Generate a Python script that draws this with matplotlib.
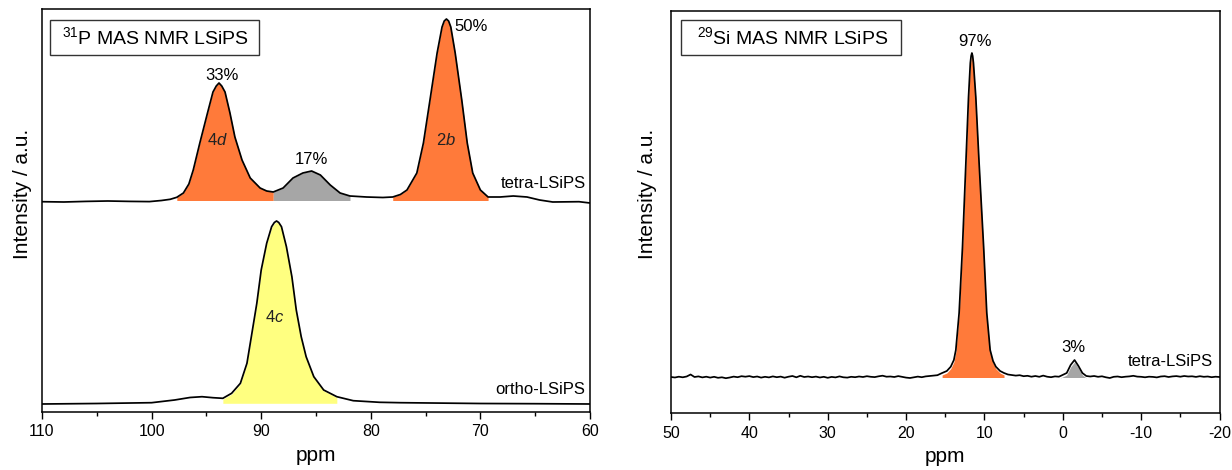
import matplotlib
matplotlib.use('Agg')
import matplotlib.pyplot as plt
from matplotlib.patches import Rectangle

plt.rcParams['font.family'] = ['Liberation Sans', 'DejaVu Sans']
plt.rcParams['mathtext.fontset'] = 'custom'
plt.rcParams['mathtext.rm'] = 'Liberation Sans'
plt.rcParams['mathtext.it'] = 'Liberation Sans:italic'
plt.rcParams['axes.unicode_minus'] = False

# --- 31P MAS NMR, tetra-LSiPS (ppm, intensity above its own baseline) ---
p_tetra_ppm = [110.0, 108.0, 106.0, 104.0, 102.0, 100.2, 99.1, 98.3, 97.7, 97.1,
               96.6, 96.2, 95.6, 94.9, 94.4, 94.1, 93.85, 93.6, 93.3, 92.85,
               92.4, 91.75, 91.0, 90.1, 89.5, 88.9, 88.0, 87.1, 86.2, 85.4,
               84.6, 83.7, 82.8, 81.9, 80.4, 78.9, 78.0, 77.3, 76.7, 75.8,
               75.2, 74.6, 73.95, 73.5, 73.3, 73.1, 72.9, 72.7, 72.3, 71.7,
               71.2, 70.7, 70.0, 69.3, 68.2, 67.0, 65.75, 64.6, 63.4, 61.0, 60.0]
p_tetra_int = [0.3, 0.0, 0.6, 1.0, 0.6, 0.4, 1.5, 2.7, 4.7, 9,
               18, 32, 59, 89, 110, 116, 119, 116, 110, 89,
               65, 42, 24, 14, 11, 10, 14, 24, 29, 31,
               27, 17, 9, 6, 5, 4.5, 5, 7.5, 12, 29,
               59, 102, 149, 175, 181, 183, 181, 175, 149, 102,
               59, 29, 12, 5, 5, 6, 5, 2, 0, 0.3, -1]

# --- 31P MAS NMR, ortho-LSiPS ---
p_ortho_ppm = [110.0, 105.0, 100.0, 97.9, 96.5, 95.4, 94.4, 93.5, 92.7, 91.9,
               91.3, 90.9, 90.4, 90.0, 89.5, 89.05, 88.8, 88.6, 88.4, 88.15,
               87.7, 87.2, 86.8, 86.35, 85.9, 85.2, 84.3, 83.1, 81.6, 79.2,
               77.3, 70.0, 65.0, 60.0]
p_ortho_int = [0, 0.5, 1.3, 4, 6.5, 7.3, 6.3, 5.7, 10.7, 20.7,
               40.7, 67.3, 100.7, 134, 160.7, 177.3, 181.5, 183, 181.5, 177.3,
               157.3, 127.3, 94, 67.3, 47.3, 27.3, 14, 7.3, 3.3, 1.7,
               1.3, 0.5, 0.3, 0]

# peak integration regions (ppm from, ppm to) and shares
p_tetra_regions = [(97.7, 88.9), (88.9, 81.9), (78.0, 69.3)]
p_tetra_shares = ['33%', '17%', '50%']
p_ortho_regions = [(93.5, 82.4)]

# --- 29Si MAS NMR, tetra-LSiPS ---
si_ppm = [50.0, 49.5, 49.0, 48.5, 48.0, 47.5, 47.0, 46.5, 46.0, 45.5,
          45.0, 44.5, 44.0, 43.5, 43.0, 42.5, 42.0, 41.5, 41.0, 40.5,
          40.0, 39.5, 39.0, 38.5, 38.0, 37.5, 37.0, 36.5, 36.0, 35.5,
          35.0, 34.5, 34.0, 33.5, 33.0, 32.5, 32.0, 31.5, 31.0, 30.5,
          30.0, 29.5, 29.0, 28.5, 28.0, 27.5, 27.0, 26.5, 26.0, 25.5,
          25.0, 24.5, 24.0, 23.5, 23.0, 22.5, 22.0, 21.5, 21.0, 20.5,
          20.0, 19.5, 19.0, 18.5, 18.0, 17.5, 17.0, 16.5, 16.0, 15.4,
          14.8, 14.3, 13.9, 13.65, 13.23, 12.8, 12.37, 12.03, 11.8, 11.7,
          11.6, 11.5, 11.4, 11.1, 10.68, 10.1, 9.7, 9.27, 8.9, 8.54,
          8.0, 7.5, 7.0, 6.5, 6.0, 5.5, 5.0, 4.5, 4.0, 3.5,
          3.0, 2.5, 2.0, 1.5, 1.0, 0.5, 0.3, -0.5, -1.0, -1.5,
          -2.0, -2.5, -3.0, -3.5, -4.0, -4.5, -5.0, -5.5, -6.0, -6.5,
          -7.0, -7.5, -8.0, -8.5, -9.0, -9.5, -10.0, -10.5, -11.0, -11.5,
          -12.0, -12.5, -13.0, -13.5, -14.0, -14.5, -15.0, -15.5, -16.0, -16.5,
          -17.0, -17.5, -18.0, -18.5, -19.0, -19.5, -20.0]
si_int = [0.0, -0.5, 0.3, -0.3, 0.5, 2.5, 0.0, 0.6, -0.4, 0.3,
          -0.6, 0.2, -0.8, -0.3, -1.2, -0.5, 0.4, -0.2, 0.8, 0.3,
          0.9, -0.1, 0.5, -0.6, 0.2, -0.4, 0.6, -0.2, 0.4, -0.7,
          0.3, 1.0, -0.3, 1.2, 0.0, 0.5, -0.2, 0.4, -0.5, 0.2,
          -0.8, 0.1, -0.4, 0.6, -0.3, -0.6, 0.2, -0.2, 0.5, 0.0,
          0.8, 0.2, -0.1, 0.7, 1.3, 0.3, 0.5, 0.0, 0.9, 0.2,
          -0.6, -1.0, -0.3, 0.4, -0.2, 0.6, 1.0, 1.5, 1.8, 4,
          6, 10.3, 17, 27, 64, 130, 214, 280, 314, 321,
          324, 321, 314, 280, 214, 130, 64, 27, 16, 10.3,
          6, 4, 2.5, 2.0, 1.4, 1.8, 0.8, 1.2, 0.3, 1.0,
          0.2, 1.4, 0.3, -0.2, 0.6, 0.3, 1.0, 4, 12, 17,
          11, 4, 1, 0.5, 1.0, 0.2, 0.7, -0.3, -1.0, 0.2,
          0.5, -0.2, 0.3, 0.6, 1.2, 0.4, 0.2, -0.3, 0.3, 0.1,
          -0.4, 0.5, 0.8, 0.0, 0.6, 0.9, 0.3, 1.0, 0.5, 0.7,
          0.1, 0.8, 0.2, 0.5, -0.2, 0.3, 0.0]
si_regions = [(15.4, 7.5), (0.3, -3.0)]
si_shares = ['97%', '3%']

ORANGE = '#FF7A3A'
GRAY = '#A6A6A6'
YELLOW = '#FFFF80'
LW = 1.25


def fill_region(ax, x, y, lo_hi, offset, color):
    hi, lo = lo_hi
    xs = [v for v in x if lo <= v <= hi]
    ys = [y[i] + offset for i, v in enumerate(x) if lo <= v <= hi]
    ax.fill_between(xs, ys, offset + 1.5, color=color, lw=0, zorder=1)


def style_axis(ax, xmin, xmax, ylim):
    ax.set_xlim(xmin, xmax)
    ax.set_ylim(*ylim)
    ax.set_yticks([])
    for s in ax.spines.values():
        s.set_linewidth(1.1)
    ax.tick_params(axis='x', which='major', direction='out', length=5, width=1.0,
                   labelsize=11.5, pad=4)
    ax.tick_params(axis='x', which='minor', direction='out', length=3, width=1.0)
    ax.set_xlabel('ppm', fontsize=15, labelpad=5)
    ax.set_ylabel('Intensity / a.u.', fontsize=15)


fig = plt.figure(figsize=(12.32, 4.70), dpi=100)

# ---------------- left: 31P ----------------
ax1 = fig.add_axes([42 / 1232, 58 / 470, 548 / 1232, 403 / 470])
tetra_off = 210
ortho_off = 8

for reg, col in zip(p_tetra_regions, [ORANGE, GRAY, ORANGE]):
    fill_region(ax1, p_tetra_ppm, p_tetra_int, reg, tetra_off, col)
fill_region(ax1, p_ortho_ppm, p_ortho_int, p_ortho_regions[0], ortho_off - 0.8, YELLOW)

ax1.plot(p_tetra_ppm, [v + tetra_off for v in p_tetra_int], color='black', lw=LW, zorder=3)
ax1.plot(p_ortho_ppm, [v + ortho_off for v in p_ortho_int], color='black', lw=LW, zorder=3)

style_axis(ax1, 110, 60, (0, 403))
ax1.set_xticks([110, 100, 90, 80, 70, 60])
ax1.set_xticks([105, 95, 85, 75, 65], minor=True)
ax1.yaxis.set_label_coords(-0.018, 0.542)

ax1.text(93.6, 337, p_tetra_shares[0], fontsize=12, ha='center', va='center')
ax1.text(85.4, 252, p_tetra_shares[1], fontsize=12, ha='center', va='center')
ax1.text(72.4, 386, p_tetra_shares[2], fontsize=12, ha='left', va='center')
ax1.text(93.95, 272, r'4$\mathit{d}$', fontsize=12, ha='center', va='center', color='#222222')
ax1.text(73.1, 272, r'2$\mathit{b}$', fontsize=12, ha='center', va='center', color='#222222')
ax1.text(88.75, 95, r'4$\mathit{c}$', fontsize=12, ha='center', va='center', color='#222222')
ax1.text(60.4, 228, 'tetra-LSiPS', fontsize=12, ha='right', va='center')
ax1.text(60.4, 22, 'ortho-LSiPS', fontsize=12, ha='right', va='center')

ax1.add_patch(Rectangle((0.0146, 0.886), 0.381, 0.087, transform=ax1.transAxes,
                        fill=False, ec='#333333', lw=1.0, zorder=4))
ax1.text(0.037, 0.929, r'$^{31}$P MAS NMR LSiPS', transform=ax1.transAxes,
         fontsize=14, ha='left', va='center')

# ---------------- right: 29Si ----------------
ax2 = fig.add_axes([671 / 1232, 57 / 470, 548.5 / 1232, 402 / 470])
si_off = 36
for reg, col in zip(si_regions, [ORANGE, GRAY]):
    fill_region(ax2, si_ppm, si_int, reg, si_off - 2.0, col)
ax2.plot(si_ppm, [v + si_off for v in si_int], color='black', lw=LW, zorder=3)

style_axis(ax2, 50, -20, (0, 402))
ax2.set_xticks([50, 40, 30, 20, 10, 0, -10, -20])
ax2.set_xticks([45, 35, 25, 15, 5, -5, -15], minor=True)
ax2.yaxis.set_label_coords(-0.025, 0.545)

ax2.text(11.2, 371, si_shares[0], fontsize=12, ha='center', va='center')
ax2.text(-1.35, 65, si_shares[1], fontsize=12, ha='center', va='center')
ax2.text(-19.2, 51, 'tetra-LSiPS', fontsize=12, ha='right', va='center')

ax2.add_patch(Rectangle((0.018, 0.8905), 0.401, 0.087, transform=ax2.transAxes,
                        fill=False, ec='#333333', lw=1.0, zorder=4))
ax2.text(0.047, 0.934, r'$^{29}$Si MAS NMR LSiPS', transform=ax2.transAxes,
         fontsize=14, ha='left', va='center')

fig.savefig('out.png', dpi=100)
